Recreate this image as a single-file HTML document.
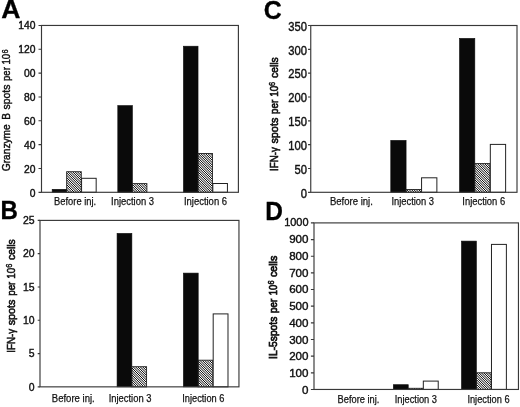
<!DOCTYPE html>
<html><head><meta charset="utf-8"><title>Figure</title>
<style>
html,body{margin:0;padding:0;background:#fff;}
svg{display:block;}
text{font-family:"Liberation Sans",sans-serif;fill:#111;stroke:#111;stroke-width:0.4;}
.pl{stroke:#000;stroke-width:0.3;}
.pl{font-weight:bold;font-size:25.75px;fill:#000;}
.tk{text-anchor:end;}
.xl{font-size:11px;stroke-width:0.25;}
.yt{font-size:11.4px;stroke-width:0.45;}
.ys{font-size:8.6px;}
.ax{stroke:#383838;stroke-width:1.15;fill:none;}
.bk{fill:#0a0a0a;stroke:#0a0a0a;stroke-width:0.6;}
.ht{fill:none;stroke:#222;stroke-width:0.9;}
.hl{stroke:#000;stroke-width:1.0;fill:none;}
.wh{fill:#fff;stroke:#222;stroke-width:1;}
</style></head><body>
<svg width="520" height="407" viewBox="0 0 520 407">

<rect width="520" height="407" fill="#fff"/>

<g id="chartA">
<rect class="bk" x="52.17" y="189.3" width="14.6" height="3"/>
<clipPath id="hA0"><rect x="66.67" y="171.7" width="14.6" height="20.6"/></clipPath>
<path class="hl" clip-path="url(#hA0)" d="M40.9,170.7l22.6,22.6M43.26,170.7l22.6,22.6M45.62,170.7l22.6,22.6M47.98,170.7l22.6,22.6M50.34,170.7l22.6,22.6M52.7,170.7l22.6,22.6M55.06,170.7l22.6,22.6M57.42,170.7l22.6,22.6M59.78,170.7l22.6,22.6M62.14,170.7l22.6,22.6M64.5,170.7l22.6,22.6M66.86,170.7l22.6,22.6M69.22,170.7l22.6,22.6M71.58,170.7l22.6,22.6M73.94,170.7l22.6,22.6M76.3,170.7l22.6,22.6M78.66,170.7l22.6,22.6M81.02,170.7l22.6,22.6M83.38,170.7l22.6,22.6"/>
<rect class="ht" x="66.67" y="171.7" width="14.6" height="20.6"/>
<rect class="wh" x="81.57" y="178.3" width="14.6" height="14"/>
<rect class="bk" x="117.8" y="105.6" width="14.6" height="86.7"/>
<clipPath id="hA1"><rect x="132.3" y="183.6" width="14.6" height="8.7"/></clipPath>
<path class="hl" clip-path="url(#hA1)" d="M118.88,182.6l10.7,10.7M121.24,182.6l10.7,10.7M123.6,182.6l10.7,10.7M125.96,182.6l10.7,10.7M128.32,182.6l10.7,10.7M130.68,182.6l10.7,10.7M133.04,182.6l10.7,10.7M135.4,182.6l10.7,10.7M137.76,182.6l10.7,10.7M140.12,182.6l10.7,10.7M142.48,182.6l10.7,10.7M144.84,182.6l10.7,10.7M147.2,182.6l10.7,10.7M149.56,182.6l10.7,10.7"/>
<rect class="ht" x="132.3" y="183.6" width="14.6" height="8.7"/>
<rect class="bk" x="183.43" y="46.2" width="14.6" height="146.1"/>
<clipPath id="hA2"><rect x="197.93" y="153.5" width="14.6" height="38.8"/></clipPath>
<path class="hl" clip-path="url(#hA2)" d="M154.86,152.5l40.8,40.8M157.22,152.5l40.8,40.8M159.58,152.5l40.8,40.8M161.94,152.5l40.8,40.8M164.3,152.5l40.8,40.8M166.66,152.5l40.8,40.8M169.02,152.5l40.8,40.8M171.38,152.5l40.8,40.8M173.74,152.5l40.8,40.8M176.1,152.5l40.8,40.8M178.46,152.5l40.8,40.8M180.82,152.5l40.8,40.8M183.18,152.5l40.8,40.8M185.54,152.5l40.8,40.8M187.9,152.5l40.8,40.8M190.26,152.5l40.8,40.8M192.62,152.5l40.8,40.8M194.98,152.5l40.8,40.8M197.34,152.5l40.8,40.8M199.7,152.5l40.8,40.8M202.06,152.5l40.8,40.8M204.42,152.5l40.8,40.8M206.78,152.5l40.8,40.8M209.14,152.5l40.8,40.8M211.5,152.5l40.8,40.8M213.86,152.5l40.8,40.8M216.22,152.5l40.8,40.8"/>
<rect class="ht" x="197.93" y="153.5" width="14.6" height="38.8"/>
<rect class="wh" x="212.83" y="183.5" width="14.6" height="8.8"/>
<rect class="ax" x="41.5" y="25.45" width="196.9" height="166.85"/>
<text class="tk" style="font-size:10.3px" transform="translate(35.4,196.86) scale(1,1)">0</text>
<text class="tk" style="font-size:10.3px" transform="translate(35.4,172.9) scale(1,1)">20</text>
<text class="tk" style="font-size:10.3px" transform="translate(35.4,148.95) scale(1,1)">40</text>
<text class="tk" style="font-size:10.3px" transform="translate(35.4,124.99) scale(1,1)">60</text>
<text class="tk" style="font-size:10.3px" transform="translate(35.4,101.03) scale(1,1)">80</text>
<text class="tk" style="font-size:10.3px" transform="translate(35.4,77.07) scale(1,1)">00</text>
<text class="tk" style="font-size:10.3px" transform="translate(35.4,53.12) scale(1,1)">120</text>
<text class="tk" style="font-size:10.3px" transform="translate(35.4,29.16) scale(1,1)">140</text>
<path class="ax" d="M38.5,192.3H41.5M38.5,168.46H41.5M38.5,144.63H41.5M38.5,120.79H41.5M38.5,96.96H41.5M38.5,73.12H41.5M38.5,49.29H41.5M38.5,25.45H41.5"/>
<text class="xl" x="54.1" y="204.9" textLength="42" lengthAdjust="spacingAndGlyphs">Before inj.</text>
<text class="xl" x="111.1" y="204.9" textLength="42.95" lengthAdjust="spacingAndGlyphs">Injection 3</text>
<text class="xl" x="183.9" y="204.9" textLength="43.15" lengthAdjust="spacingAndGlyphs">Injection 6</text>
<text class="yt" style="stroke-width:0.45" transform="translate(10.2,171.3) rotate(-90)" textLength="47.1" lengthAdjust="spacingAndGlyphs">Granzyme</text>
<text class="yt" style="stroke-width:0.45" transform="translate(10.2,119.8) rotate(-90)" textLength="6.7" lengthAdjust="spacingAndGlyphs">B</text>
<text class="yt" style="stroke-width:0.45" transform="translate(10.2,109.45) rotate(-90)" textLength="24.95" lengthAdjust="spacingAndGlyphs">spots</text>
<text class="yt" style="stroke-width:0.45" transform="translate(10.2,80.9) rotate(-90)" textLength="13.7" lengthAdjust="spacingAndGlyphs">per</text>
<text class="yt" style="stroke-width:0.45" transform="translate(10.2,64.5) rotate(-90)" textLength="10.75" lengthAdjust="spacingAndGlyphs">10</text>
<text class="ys" style="stroke-width:0.36000000000000004" transform="translate(7.6,53.4) rotate(-90)" textLength="4.1" lengthAdjust="spacingAndGlyphs">6</text>
<text class="pl" transform="translate(1.24,17.95) scale(1.033,1)">A</text>
</g>
<g id="chartB">
<rect class="bk" x="117.07" y="233.4" width="14.8" height="153.45"/>
<clipPath id="hB1"><rect x="131.78" y="366.7" width="14.8" height="20.15"/></clipPath>
<path class="hl" clip-path="url(#hB1)" d="M106.1,365.7l22.15,22.15M108.46,365.7l22.15,22.15M110.82,365.7l22.15,22.15M113.18,365.7l22.15,22.15M115.54,365.7l22.15,22.15M117.9,365.7l22.15,22.15M120.26,365.7l22.15,22.15M122.62,365.7l22.15,22.15M124.98,365.7l22.15,22.15M127.34,365.7l22.15,22.15M129.7,365.7l22.15,22.15M132.06,365.7l22.15,22.15M134.42,365.7l22.15,22.15M136.78,365.7l22.15,22.15M139.14,365.7l22.15,22.15M141.5,365.7l22.15,22.15M143.86,365.7l22.15,22.15M146.22,365.7l22.15,22.15M148.58,365.7l22.15,22.15"/>
<rect class="ht" x="131.78" y="366.7" width="14.8" height="20.15"/>
<rect class="bk" x="183.39" y="273.1" width="14.8" height="113.75"/>
<clipPath id="hB2"><rect x="198.09" y="360.2" width="14.8" height="26.65"/></clipPath>
<path class="hl" clip-path="url(#hB2)" d="M168.04,359.2l28.65,28.65M170.4,359.2l28.65,28.65M172.76,359.2l28.65,28.65M175.12,359.2l28.65,28.65M177.48,359.2l28.65,28.65M179.84,359.2l28.65,28.65M182.2,359.2l28.65,28.65M184.56,359.2l28.65,28.65M186.92,359.2l28.65,28.65M189.28,359.2l28.65,28.65M191.64,359.2l28.65,28.65M194,359.2l28.65,28.65M196.36,359.2l28.65,28.65M198.72,359.2l28.65,28.65M201.08,359.2l28.65,28.65M203.44,359.2l28.65,28.65M205.8,359.2l28.65,28.65M208.16,359.2l28.65,28.65M210.52,359.2l28.65,28.65M212.88,359.2l28.65,28.65M215.24,359.2l28.65,28.65"/>
<rect class="ht" x="198.09" y="360.2" width="14.8" height="26.65"/>
<rect class="wh" x="213.19" y="313.9" width="14.8" height="72.95"/>
<rect class="ax" x="40" y="220.4" width="198.95" height="166.45"/>
<text class="tk" style="font-size:11.1px" transform="translate(34.65,390.53) scale(0.94,1)">0</text>
<text class="tk" style="font-size:11.1px" transform="translate(34.65,357.24) scale(0.94,1)">5</text>
<text class="tk" style="font-size:11.1px" transform="translate(34.65,323.95) scale(0.94,1)">10</text>
<text class="tk" style="font-size:11.1px" transform="translate(34.65,290.66) scale(0.94,1)">15</text>
<text class="tk" style="font-size:11.1px" transform="translate(34.65,257.37) scale(0.94,1)">20</text>
<text class="tk" style="font-size:11.1px" transform="translate(34.65,224.08) scale(0.94,1)">25</text>
<path class="ax" d="M37.7,386.85H40M37.7,353.56H40M37.7,320.27H40M37.7,286.98H40M37.7,253.69H40M37.7,220.4H40"/>
<text class="xl" x="51.8" y="401.6" textLength="42.9" lengthAdjust="spacingAndGlyphs">Before inj.</text>
<text class="xl" x="108.7" y="401.6" textLength="42.75" lengthAdjust="spacingAndGlyphs">Injection 3</text>
<text class="xl" x="182.3" y="401.6" textLength="42.05" lengthAdjust="spacingAndGlyphs">Injection 6</text>
<text class="yt" style="stroke-width:0.6" transform="translate(15,352.7) rotate(-90)" textLength="23.7" lengthAdjust="spacingAndGlyphs">IFN-γ</text>
<text class="yt" style="stroke-width:0.6" transform="translate(15,325.35) rotate(-90)" textLength="25.85" lengthAdjust="spacingAndGlyphs">spots</text>
<text class="yt" style="stroke-width:0.6" transform="translate(15,295.8) rotate(-90)" textLength="14.2" lengthAdjust="spacingAndGlyphs">per</text>
<text class="yt" style="stroke-width:0.6" transform="translate(15,278.65) rotate(-90)" textLength="11" lengthAdjust="spacingAndGlyphs">10</text>
<text class="ys" style="stroke-width:0.48" transform="translate(12.4,267.8) rotate(-90)" textLength="4.1" lengthAdjust="spacingAndGlyphs">6</text>
<text class="yt" style="stroke-width:0.6" transform="translate(15,260) rotate(-90)" textLength="20.7" lengthAdjust="spacingAndGlyphs">cells</text>
<text class="pl" transform="translate(0.56,219) scale(0.935,1)">B</text>
</g>
<g id="chartC">
<rect class="bk" x="390.78" y="140.4" width="15.3" height="51.9"/>
<clipPath id="hC1"><rect x="405.98" y="189.5" width="15.3" height="2.8"/></clipPath>
<path class="hl" clip-path="url(#hC1)" d="M398.54,188.5l4.8,4.8M400.9,188.5l4.8,4.8M403.26,188.5l4.8,4.8M405.62,188.5l4.8,4.8M407.98,188.5l4.8,4.8M410.34,188.5l4.8,4.8M412.7,188.5l4.8,4.8M415.06,188.5l4.8,4.8M417.42,188.5l4.8,4.8M419.78,188.5l4.8,4.8M422.14,188.5l4.8,4.8M424.5,188.5l4.8,4.8"/>
<rect class="ht" x="405.98" y="189.5" width="15.3" height="2.8"/>
<rect class="wh" x="421.57" y="177.8" width="15.3" height="14.5"/>
<rect class="bk" x="459.53" y="38.4" width="15.3" height="153.9"/>
<clipPath id="hC2"><rect x="474.73" y="163.6" width="15.3" height="28.7"/></clipPath>
<path class="hl" clip-path="url(#hC2)" d="M441.08,162.6l30.7,30.7M443.44,162.6l30.7,30.7M445.8,162.6l30.7,30.7M448.16,162.6l30.7,30.7M450.52,162.6l30.7,30.7M452.88,162.6l30.7,30.7M455.24,162.6l30.7,30.7M457.6,162.6l30.7,30.7M459.96,162.6l30.7,30.7M462.32,162.6l30.7,30.7M464.68,162.6l30.7,30.7M467.04,162.6l30.7,30.7M469.4,162.6l30.7,30.7M471.76,162.6l30.7,30.7M474.12,162.6l30.7,30.7M476.48,162.6l30.7,30.7M478.84,162.6l30.7,30.7M481.2,162.6l30.7,30.7M483.56,162.6l30.7,30.7M485.92,162.6l30.7,30.7M488.28,162.6l30.7,30.7M490.64,162.6l30.7,30.7M493,162.6l30.7,30.7"/>
<rect class="ht" x="474.73" y="163.6" width="15.3" height="28.7"/>
<rect class="wh" x="490.32" y="144.4" width="15.3" height="47.9"/>
<rect class="ax" x="310.75" y="25.5" width="206.25" height="166.8"/>
<text class="tk" style="font-size:12.0px" transform="translate(306.9,197.59) scale(0.935,1)">0</text>
<text class="tk" style="font-size:12.0px" transform="translate(306.9,173.76) scale(0.935,1)">50</text>
<text class="tk" style="font-size:12.0px" transform="translate(306.9,149.93) scale(0.935,1)">100</text>
<text class="tk" style="font-size:12.0px" transform="translate(306.9,126.1) scale(0.935,1)">150</text>
<text class="tk" style="font-size:12.0px" transform="translate(306.9,102.27) scale(0.935,1)">200</text>
<text class="tk" style="font-size:12.0px" transform="translate(306.9,78.45) scale(0.935,1)">250</text>
<text class="tk" style="font-size:12.0px" transform="translate(306.9,54.62) scale(0.935,1)">300</text>
<text class="tk" style="font-size:12.0px" transform="translate(306.9,30.79) scale(0.935,1)">350</text>
<path class="ax" d="M308.05,192.3H310.75M308.05,168.47H310.75M308.05,144.64H310.75M308.05,120.81H310.75M308.05,96.99H310.75M308.05,73.16H310.75M308.05,49.33H310.75M308.05,25.5H310.75"/>
<text class="xl" x="329.9" y="205" textLength="43" lengthAdjust="spacingAndGlyphs">Before inj.</text>
<text class="xl" x="391.4" y="205" textLength="42.65" lengthAdjust="spacingAndGlyphs">Injection 3</text>
<text class="xl" x="462.3" y="205" textLength="42.85" lengthAdjust="spacingAndGlyphs">Injection 6</text>
<text class="yt" style="stroke-width:0.65" transform="translate(277.8,170.9) rotate(-90)" textLength="23.7" lengthAdjust="spacingAndGlyphs">IFN-γ</text>
<text class="yt" style="stroke-width:0.65" transform="translate(277.8,143.55) rotate(-90)" textLength="25.85" lengthAdjust="spacingAndGlyphs">spots</text>
<text class="yt" style="stroke-width:0.65" transform="translate(277.8,114) rotate(-90)" textLength="14.2" lengthAdjust="spacingAndGlyphs">per</text>
<text class="yt" style="stroke-width:0.65" transform="translate(277.8,96.85) rotate(-90)" textLength="11" lengthAdjust="spacingAndGlyphs">10</text>
<text class="ys" style="stroke-width:0.52" transform="translate(275.2,86) rotate(-90)" textLength="4.1" lengthAdjust="spacingAndGlyphs">6</text>
<text class="yt" style="stroke-width:0.65" transform="translate(277.8,77.9) rotate(-90)" textLength="20.7" lengthAdjust="spacingAndGlyphs">cells</text>
<text class="pl" transform="translate(263.63,19.1) scale(0.967,1)">C</text>
</g>
<g id="chartD">
<rect class="bk" x="393.33" y="384.7" width="14.9" height="4.75"/>
<clipPath id="hD1"><rect x="408.12" y="388.3" width="14.9" height="1.15"/></clipPath>
<path class="hl" clip-path="url(#hD1)" d="M401.46,387.3l3.15,3.15M403.82,387.3l3.15,3.15M406.18,387.3l3.15,3.15M408.54,387.3l3.15,3.15M410.9,387.3l3.15,3.15M413.26,387.3l3.15,3.15M415.62,387.3l3.15,3.15M417.98,387.3l3.15,3.15M420.34,387.3l3.15,3.15M422.7,387.3l3.15,3.15M425.06,387.3l3.15,3.15"/>
<rect class="ht" x="408.12" y="388.3" width="14.9" height="1.15"/>
<rect class="wh" x="423.32" y="381.1" width="14.9" height="8.35"/>
<rect class="bk" x="461.48" y="241.1" width="14.9" height="148.35"/>
<clipPath id="hD2"><rect x="476.28" y="372.8" width="14.9" height="16.65"/></clipPath>
<path class="hl" clip-path="url(#hD2)" d="M454.4,371.8l18.65,18.65M456.76,371.8l18.65,18.65M459.12,371.8l18.65,18.65M461.48,371.8l18.65,18.65M463.84,371.8l18.65,18.65M466.2,371.8l18.65,18.65M468.56,371.8l18.65,18.65M470.92,371.8l18.65,18.65M473.28,371.8l18.65,18.65M475.64,371.8l18.65,18.65M478,371.8l18.65,18.65M480.36,371.8l18.65,18.65M482.72,371.8l18.65,18.65M485.08,371.8l18.65,18.65M487.44,371.8l18.65,18.65M489.8,371.8l18.65,18.65M492.16,371.8l18.65,18.65M494.52,371.8l18.65,18.65"/>
<rect class="ht" x="476.28" y="372.8" width="14.9" height="16.65"/>
<rect class="wh" x="491.48" y="244.4" width="14.9" height="145.05"/>
<rect class="ax" x="314" y="222.9" width="204.45" height="166.55"/>
<text class="tk" style="font-size:11.6px" transform="translate(308.5,393.9) scale(1,1)">0</text>
<text class="tk" style="font-size:11.6px" transform="translate(308.5,377.16) scale(1,1)">100</text>
<text class="tk" style="font-size:11.6px" transform="translate(308.5,360.41) scale(1,1)">200</text>
<text class="tk" style="font-size:11.6px" transform="translate(308.5,343.67) scale(1,1)">300</text>
<text class="tk" style="font-size:11.6px" transform="translate(308.5,326.92) scale(1,1)">400</text>
<text class="tk" style="font-size:11.6px" transform="translate(308.5,310.18) scale(1,1)">500</text>
<text class="tk" style="font-size:11.6px" transform="translate(308.5,293.43) scale(1,1)">600</text>
<text class="tk" style="font-size:11.6px" transform="translate(308.5,276.69) scale(1,1)">700</text>
<text class="tk" style="font-size:11.6px" transform="translate(308.5,259.94) scale(1,1)">800</text>
<text class="tk" style="font-size:11.6px" transform="translate(308.5,243.2) scale(1,1)">900</text>
<text class="tk" style="font-size:11.6px" transform="translate(308.5,226.45) scale(0.945,1)">1000</text>
<path class="ax" d="M310.9,389.45H314M310.9,372.8H314M310.9,356.14H314M310.9,339.49H314M310.9,322.83H314M310.9,306.18H314M310.9,289.52H314M310.9,272.87H314M310.9,256.21H314M310.9,239.56H314M310.9,222.9H314"/>
<text class="xl" x="337.6" y="403" textLength="41.8" lengthAdjust="spacingAndGlyphs">Before inj.</text>
<text class="xl" x="394.7" y="403" textLength="42.35" lengthAdjust="spacingAndGlyphs">Injection 3</text>
<text class="xl" x="467.4" y="403" textLength="42.15" lengthAdjust="spacingAndGlyphs">Injection 6</text>
<text class="yt" style="stroke-width:0.75" transform="translate(276.6,358.9) rotate(-90)" textLength="42.2" lengthAdjust="spacingAndGlyphs">IL-5spots</text>
<text class="yt" style="stroke-width:0.75" transform="translate(276.6,313) rotate(-90)" textLength="14.2" lengthAdjust="spacingAndGlyphs">per</text>
<text class="yt" style="stroke-width:0.75" transform="translate(276.6,295.35) rotate(-90)" textLength="10.5" lengthAdjust="spacingAndGlyphs">10</text>
<text class="ys" style="stroke-width:0.6000000000000001" transform="translate(274,284.5) rotate(-90)" textLength="4.1" lengthAdjust="spacingAndGlyphs">6</text>
<text class="yt" style="stroke-width:0.75" transform="translate(276.6,277.1) rotate(-90)" textLength="21.4" lengthAdjust="spacingAndGlyphs">cells</text>
<text class="pl" transform="translate(265.25,219.8) scale(0.951,1)">D</text>
</g>
</svg></body></html>
